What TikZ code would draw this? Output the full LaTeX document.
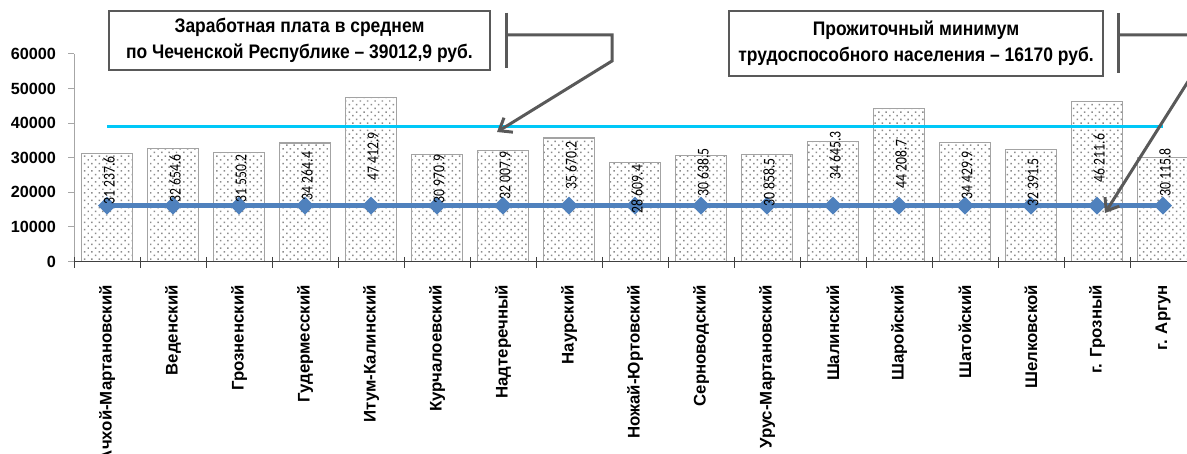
\documentclass[tikz,border=0pt]{standalone}
\usepackage{fontspec}
\setmainfont{Liberation Sans}
\newfontfamily\calibrifont[FakeStretch=0.83]{Carlito}
\newfontfamily\narrowfont[FakeStretch=0.89]{Liberation Sans}
\usetikzlibrary{arrows.meta,patterns.meta,shapes.geometric}

\definecolor{barline}{HTML}{A3A3A3}
\definecolor{dotgray}{HTML}{8C8C8C}
\definecolor{minblue}{HTML}{4F81BD}
\definecolor{wagecyan}{HTML}{00C8F8}
\definecolor{callgray}{HTML}{595959}

\tikzset{
    bar/.style={draw=barline, line width=1.4pt,
        pattern={Dots[radius=1.05pt, distance=5.2pt, angle=45]}, pattern color=dotgray},
    vallab/.style={font=\calibrifont\fontsize{16.5}{17}\selectfont, inner sep=0pt, rotate=90},
    catlab/.style={font=\bfseries\fontsize{16.8}{18}\selectfont, inner sep=0pt, rotate=90, anchor=east},
    ylab/.style={font=\bfseries\fontsize{16.2}{18}\selectfont, inner sep=0pt, anchor=east},
    mindot/.style={diamond, fill=minblue, inner sep=0pt, minimum size=18pt},
    callbox/.style={draw=callgray, line width=2.7pt, fill=white, align=center,
        font=\narrowfont\bfseries\fontsize{19.6}{26}\selectfont},
    leader/.style={draw=callgray, line width=3pt},
}

\begin{document}
\begin{tikzpicture}[x=1pt,y=-1pt]
    \useasboundingbox (0,0) rectangle (1187,454);

    % value axis
    \draw[gray!70, line width=1pt](74,261.5)--(74,53.9);
    \foreach \k in {0,...,6}{
        \pgfmathsetmacro\yy{261.5-\k*34.6}
        \draw[gray!70, line width=1pt](68.3,\yy)--(74,\yy);
        \node[ylab](y\k)at(56,\yy){\ifnum\k=0 0\else\k0000\fi};
    }

    % bars, labels below the axis
    \foreach \val/\txt/\ly/\name [count=\i] in {
        3.12376/31 237.6/180.5/Ачхой-Мартановский,
        3.26546/32 654.6/178.5/Веденский,
        3.15502/31 550.2/178.5/Грозненский,
        3.42644/34 264.4/176/Гудермесский,
        4.74129/47 412.9/156.5/Итум-Калинский,
        3.09709/30 970.9/179/Курчалоевский,
        3.20079/32 007.9/175.5/Надтеречный,
        3.56702/35 670.2/165.5/Наурский,
        2.86094/28 609.4/189/Ножай-Юртовский,
        3.06385/30 638.5/172.5/Серноводский,
        3.08585/30 858.5/182.5/Урус-Мартановский,
        3.46453/34 645.3/155.5/Шалинский,
        4.42087/44 208.7/164/Шаройский,
        3.44299/34 429.9/175.5/Шатойский,
        3.23915/32 391.5/182.5/Шелковской,
        4.62116/46 211.6/158/г. Грозный,
        3.01158/30 115.8/172.5/г. Аргун}{
        \pgfmathsetmacro\cx{41+66*\i}
        \pgfmathsetmacro\bartop{261.5-\val*34.6}
        \filldraw[bar](\cx-25.5,261.5)rectangle(\cx+25.5,\bartop);
        \coordinate(p\i)at(\cx,205.6);
        \coordinate(l\i)at(\cx+2,\ly);
        \node[catlab](cat\i)at(\cx,285){\name};
        \expandafter\xdef\csname vtxt\i\endcsname{\txt}
    }

    % category axis
    \draw[black!75, line width=1pt](74,261.5)--(1187,261.5);
    \foreach \k in {0,...,16}
        \draw[black!75, line width=1pt](74+66*\k,257)--(74+66*\k,268.3);

    % average wage
    \draw[wagecyan, line width=3.3pt](107,126.5)--(1163,126.5);

    % subsistence minimum
    \draw[minblue, line width=4.5pt](p1)--(p17);
    \foreach \i in {1,...,17}
        \node[mindot](m\i)at(p\i){};

    % data labels
    \foreach \i in {1,...,17}
        \node[vallab](v\i)at(l\i){\csname vtxt\i\endcsname};

    % callouts
    \node[callbox, minimum width=381pt, minimum height=59pt](wagebox)at(299.5,40.5)
        {Заработная плата в среднем\\по Чеченской Республике – 39012,9 руб.};
    \coordinate(wagetip)at(497,132);
    \draw[leader](506,12.7)--(506,68);
    \draw[leader, -{Straight Barb[length=11pt, width=17pt]}]
        (506,35)--(612,35)--(612,61)--(wagetip);

    \node[callbox, minimum width=374pt, minimum height=65pt](minbox)at(916,43.5)
        {Прожиточный минимум\\трудоспособного населения – 16170 руб.};
    \coordinate(mintip)at(1105,213);
    \draw[leader](1118,13)--(1118,73);
    \draw[leader, -{Straight Barb[length=11pt, width=17pt]}]
        (1118,35)--(1201,35)--(1201,61)--(mintip);
\end{tikzpicture}
\end{document}
